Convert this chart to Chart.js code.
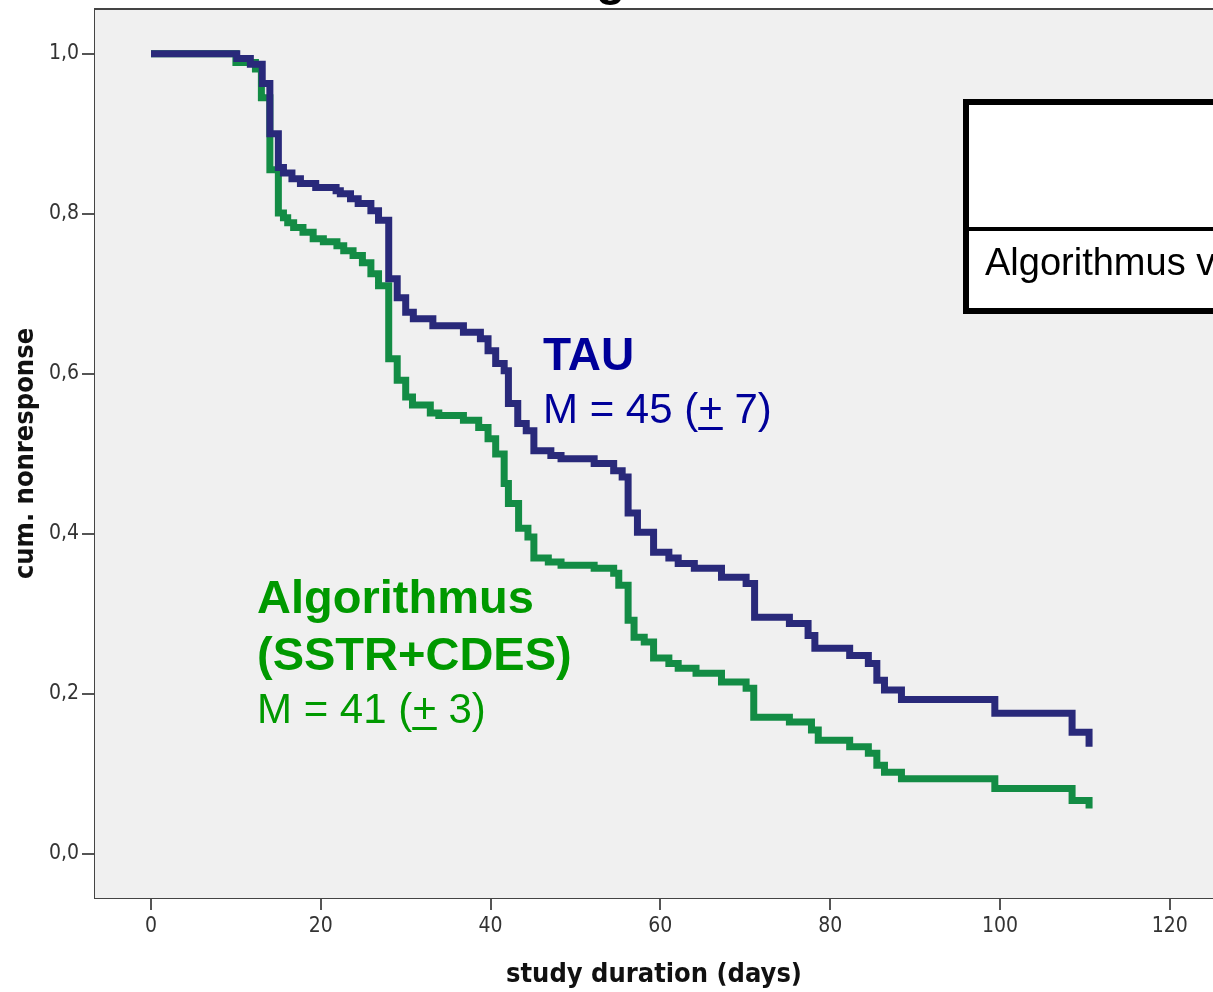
<!DOCTYPE html>
<html>
<head>
<meta charset="utf-8">
<script src="https://cdn.jsdelivr.net/npm/chart.js@4.4.1/dist/chart.umd.min.js"></script>
<style>
  html, body { margin: 0; padding: 0; background: #fff; }
  #wrap { position: relative; width: 1213px; height: 992px; }
</style>
</head>
<body>
<div id="wrap"><canvas id="km"></canvas></div>
<script>
// Kaplan-Meier steps (day of event, cum. nonresponse after it)
const tauDays = [0, 10.1, 11.7, 13.1, 14.0, 15.0, 15.6, 16.6, 17.6, 19.4, 21.8, 22.3, 23.5, 24.4, 25.9, 26.8,
  28.0, 29.0, 30.0, 30.9, 33.2, 36.8, 38.8, 39.7, 40.6, 41.6, 42.1, 43.2, 44.2, 45.1, 47.1, 48.3, 52.2,
  54.5, 55.5, 56.2, 57.3, 59.2, 61.0, 62.1, 64.0, 67.2, 70.1, 71.1, 75.2, 77.4, 78.2, 82.3, 84.5, 85.5,
  86.4, 88.4, 99.4, 108.5, 110.5]
const tauSurv = [1.0, 0.994, 0.987, 0.963, 0.900, 0.858, 0.851, 0.844, 0.838, 0.833, 0.829, 0.825, 0.819, 0.813, 0.804, 0.792,
  0.719, 0.695, 0.677, 0.669, 0.660, 0.652, 0.644, 0.629, 0.613, 0.604, 0.563, 0.538, 0.529, 0.504, 0.498, 0.494, 0.488,
  0.479, 0.471, 0.426, 0.402, 0.377, 0.370, 0.363, 0.357, 0.346, 0.338, 0.296, 0.288, 0.273, 0.257, 0.248, 0.238, 0.217,
  0.205, 0.193, 0.176, 0.152, 0.134]

const algoDays = [0, 10.0, 12.3, 13.0, 14.0, 15.0, 15.6, 16.1, 16.8, 17.9, 19.1, 20.3, 21.9, 22.7, 23.8, 24.9, 25.9, 26.8,
  28.0, 29.0, 30.0, 30.8, 32.9, 33.9, 36.8, 38.6, 39.7, 40.6, 41.6, 42.1, 43.3, 44.4, 45.1, 46.8, 48.3, 52.2,
  54.5, 55.1, 56.2, 56.9, 58.1, 59.2, 61.0, 62.1, 64.2, 67.2, 70.1, 71.0, 75.2, 77.8, 78.6, 82.3, 84.5, 85.5,
  86.4, 88.4, 99.4, 108.5, 110.5]
const algoSurv = [1.0, 0.989, 0.981, 0.945, 0.855, 0.801, 0.795, 0.789, 0.783, 0.777, 0.769, 0.765, 0.760, 0.754, 0.748, 0.739, 0.725, 0.710,
  0.619, 0.592, 0.571, 0.561, 0.551, 0.548, 0.542, 0.533, 0.519, 0.500, 0.463, 0.438, 0.407, 0.396, 0.370, 0.365, 0.361, 0.357,
  0.351, 0.336, 0.292, 0.271, 0.265, 0.245, 0.238, 0.232, 0.226, 0.215, 0.207, 0.171, 0.165, 0.155, 0.142, 0.134, 0.126, 0.111,
  0.102, 0.094, 0.082, 0.067, 0.057]

const xTicks = [0, 20, 40, 60, 80, 100, 120]
const yTicks = [0, 0.2, 0.4, 0.6, 0.8, 1.0]

const toPoints = (xs, ys) => xs.map((x, i) => ({ x: x, y: ys[i] }))

const tickFont = { family: "'DejaVu Sans Condensed', 'DejaVu Sans'", size: 21 }
const titleFont = { family: "'DejaVu Sans Condensed', 'DejaVu Sans'", size: 27, weight: "bold" }

// plot background + top frame line
const frame = {
  id: "frame",
  beforeDatasetsDraw(chart) {
    const { ctx, chartArea: a } = chart
    ctx.save()
    ctx.fillStyle = "#f0f0f0"
    ctx.fillRect(a.left, a.top, a.right - a.left, a.bottom - a.top)
    ctx.strokeStyle = "#444"
    ctx.lineWidth = 2
    ctx.beginPath()
    ctx.moveTo(a.left, a.top)
    ctx.lineTo(a.right, a.top)
    ctx.stroke()
    ctx.restore()
  },
}

function underlinedText(ctx, str, mark, x, y, color) {
  ctx.fillStyle = color
  ctx.fillText(str, x, y)
  const i = str.indexOf(mark)
  const x0 = x + ctx.measureText(str.slice(0, i)).width
  const w = ctx.measureText(mark).width
  ctx.fillRect(x0, y + 4, w, 3)
}

// group labels, the cut-off table and the title remnant
const notes = {
  id: "notes",
  afterDraw(chart) {
    const ctx = chart.ctx
    ctx.save()
    ctx.textBaseline = "alphabetic"
    ctx.textAlign = "left"

    ctx.fillStyle = "#000099"
    ctx.font = "bold 46px 'Liberation Sans', Arial, sans-serif"
    ctx.fillText("TAU", 543, 370)
    ctx.font = "42px 'Liberation Sans', Arial, sans-serif"
    underlinedText(ctx, "M = 45 (+ 7)", "+", 543, 423, "#000099")

    ctx.fillStyle = "#009900"
    ctx.font = "bold 47px 'Liberation Sans', Arial, sans-serif"
    ctx.fillText("Algorithmus", 257, 613)
    ctx.fillText("(SSTR+CDES)", 257, 670)
    ctx.font = "42px 'Liberation Sans', Arial, sans-serif"
    underlinedText(ctx, "M = 41 (+ 3)", "+", 257, 723, "#009900")

    // table box running off the right edge
    ctx.fillStyle = "#fff"
    ctx.fillRect(966, 102, 260, 209)
    ctx.strokeStyle = "#000"
    ctx.lineWidth = 6
    ctx.strokeRect(966, 102, 300, 209)
    ctx.lineWidth = 4
    ctx.beginPath()
    ctx.moveTo(966, 229)
    ctx.lineTo(1213, 229)
    ctx.stroke()
    ctx.fillStyle = "#000"
    ctx.font = "38px 'Liberation Sans', Arial, sans-serif"
    ctx.fillText("Algorithmus vs. TAU", 985, 275)

    // bottom of the cropped title
    ctx.font = "bold 48px 'Liberation Sans', Arial, sans-serif"
    ctx.fillText("g", 596, -5)
    ctx.restore()
  },
}

new Chart(document.getElementById("km"), {
  type: "line",
  data: {
    datasets: [
      {
        label: "TAU",
        data: toPoints(tauDays, tauSurv),
        borderColor: "#29297a",
        borderWidth: 7,
        stepped: "before",
        pointRadius: 0,
        borderCapStyle: "butt",
        borderJoinStyle: "miter",
        fill: false,
      },
      {
        label: "Algorithmus (SSTR+CDES)",
        data: toPoints(algoDays, algoSurv),
        borderColor: "#138c45",
        borderWidth: 7,
        stepped: "before",
        pointRadius: 0,
        borderCapStyle: "butt",
        borderJoinStyle: "miter",
        fill: false,
      },
    ],
  },
  options: {
    responsive: true,
    maintainAspectRatio: false,
    animation: false,
    layout: { padding: { top: 9, left: 0, right: 0, bottom: 0 } },
    plugins: {
      legend: { display: false },
      tooltip: { enabled: false },
    },
    scales: {
      x: {
        type: "linear",
        min: -6.6,
        max: 125.1,
        afterBuildTicks: (axis) => { axis.ticks = xTicks.map((v) => ({ value: v })) },
        afterFit: (s) => { s.height = 94; s.paddingLeft = 0; s.paddingRight = 0 },
        grid: { drawOnChartArea: false, tickLength: 12, color: "#555", lineWidth: 2 },
        border: { display: true, color: "#444", width: 2 },
        ticks: { color: "#333", font: tickFont, padding: 4, maxRotation: 0 },
        title: {
          display: true,
          text: "study duration (days)",
          color: "#111",
          font: titleFont,
          padding: { top: 0, bottom: 1 },
        },
      },
      y: {
        min: -0.055,
        max: 1.056,
        afterBuildTicks: (axis) => { axis.ticks = yTicks.map((v) => ({ value: v })) },
        afterFit: (s) => { s.width = 95; s.paddingTop = 0; s.paddingBottom = 0 },
        grid: { drawOnChartArea: false, tickLength: 13, color: "#555", lineWidth: 2 },
        border: { display: true, color: "#444", width: 2 },
        ticks: {
          color: "#333",
          font: tickFont,
          padding: 3,
          callback: (v) => v.toFixed(1).replace(".", ","),
        },
        title: {
          display: true,
          text: "cum. nonresponse",
          color: "#111",
          font: titleFont,
          padding: { top: 10, bottom: 0 },
        },
      },
    },
  },
  plugins: [frame, notes],
})
</script>
</body>
</html>
